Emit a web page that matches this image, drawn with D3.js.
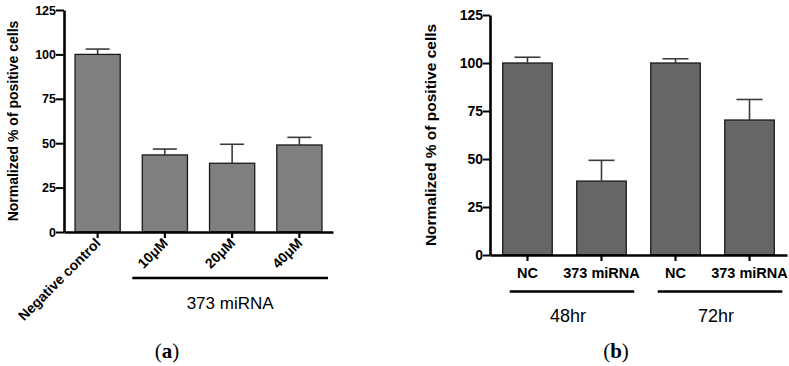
<!DOCTYPE html>
<html><head><meta charset="utf-8">
<script src="https://cdn.jsdelivr.net/npm/d3@7"></script>
<style>body{margin:0;background:#fff}svg{display:block}</style>
</head><body>
<svg id="c" width="789" height="366"></svg>
<script>
// ---- data ----
const catsA = ["Negative control", "10μM", "20μM", "40μM"];
const meanA = [100, 43.4, 38.7, 49.0];
const errA  = [3.0, 3.3, 10.7, 4.3];
const groupA = ["373 miRNA"];           // spans categories 1..3

const catsB  = ["NC", "373 miRNA", "NC", "373 miRNA"];
const meanB  = [100, 38.5, 100, 70.3];
const errB   = [3.0, 10.8, 2.2, 10.7];
const groupB = ["48hr", "72hr"];        // each spans 2 categories

const yTicks = [0, 25, 50, 75, 100, 125];
const yTitle = "Normalized % of positive cells";
const panelLabels = ["a", "b"];

const svg = d3.select("#c");
const SANS = "'Liberation Sans', Arial, Helvetica, sans-serif";

function panel(cfg) {
  const g = svg.append("g");
  const y = d3.scaleLinear().domain([0, 125]).range([cfg.y0, cfg.y1]);
  const idx = cfg.cats.map((_, i) => i);
  const x = d3.scaleBand().domain(idx).range([cfg.x0, cfg.x1])
    .paddingInner(cfg.pi).paddingOuter(cfg.po);

  // bars
  g.selectAll("rect.bar").data(idx).join("rect")
    .attr("x", i => x(i)).attr("width", x.bandwidth())
    .attr("y", i => y(cfg.mean[i])).attr("height", i => y(0) - y(cfg.mean[i]))
    .attr("fill", cfg.fill).attr("stroke", "#1a1a1a").attr("stroke-width", 1.3);

  // error bars (upper only)
  const cap = cfg.cap;
  idx.forEach(i => {
    const cx = x(i) + x.bandwidth() / 2;
    g.append("line").attr("x1", cx).attr("x2", cx)
      .attr("y1", y(cfg.mean[i])).attr("y2", y(cfg.mean[i] + cfg.err[i]))
      .attr("stroke", "#3a3a3a").attr("stroke-width", 1.6);
    g.append("line").attr("x1", cx - cap / 2).attr("x2", cx + cap / 2)
      .attr("y1", y(cfg.mean[i] + cfg.err[i])).attr("y2", y(cfg.mean[i] + cfg.err[i]))
      .attr("stroke", "#3a3a3a").attr("stroke-width", 1.6);
  });

  // y axis
  const ya = g.append("g").attr("transform", `translate(${cfg.x0},0)`)
    .call(d3.axisLeft(y).tickValues(yTicks).tickSize(cfg.tickLen).tickSizeOuter(0).tickPadding(0));
  ya.select(".domain").attr("stroke", "#000").attr("stroke-width", 2.6);
  ya.selectAll(".tick line").attr("stroke", "#000").attr("stroke-width", 2);
  ya.selectAll(".tick text").attr("fill", "#000")
    .style("font-family", SANS).style("font-weight", "bold").style("font-size", cfg.tickFs + "px");

  // x axis
  const xa = g.append("g").attr("transform", `translate(0,${cfg.y0})`)
    .call(d3.axisBottom(x).tickSize(6).tickSizeOuter(0).tickFormat(""));
  xa.select(".domain").attr("stroke", "#000").attr("stroke-width", 2.6);
  xa.selectAll(".tick line").attr("stroke", "#000").attr("stroke-width", 2.2);

  // y title
  g.append("text").attr("transform", `translate(${cfg.titleX},${(cfg.y0 + cfg.y1) / 2}) rotate(-90)`)
    .attr("text-anchor", "middle").attr("dominant-baseline", "central")
    .style("font-family", SANS).style("font-weight", "bold").style("font-size", cfg.titleFs + "px")
    .text(yTitle);

  return { g, x, y };
}

// ---------- panel (a) ----------
const A = panel({
  cats: catsA, mean: meanA, err: errA, fill: "#7f7f7f",
  x0: 64, x1: 333, y0: 232, y1: 10, pi: 0.328, po: 0.164,
  cap: 24, tickFs: 12.5, tickLen: 8, titleX: 13, titleFs: 14
});
catsA.forEach((c, i) => {
  const cx = A.x(i) + A.x.bandwidth() / 2;
  A.g.append("text").attr("transform", `translate(${cx + 4},${244}) rotate(-45)`)
    .attr("text-anchor", "end")
    .style("font-family", SANS).style("font-weight", "bold").style("font-size", "14px")
    .text(c);
});
{
  const xs = A.x(1) - 10, xe = A.x(3) + A.x.bandwidth() + 6;
  A.g.append("line").attr("x1", xs).attr("x2", xe).attr("y1", 278).attr("y2", 278)
    .attr("stroke", "#000").attr("stroke-width", 2.6);
  A.g.append("text").attr("x", (xs + xe) / 2).attr("y", 309).attr("text-anchor", "middle")
    .style("font-family", SANS).style("font-size", "17px").text(groupA[0]);
}

// ---------- panel (b) ----------
const B = panel({
  cats: catsB, mean: meanB, err: errB, fill: "#666666",
  x0: 490, x1: 787, y0: 255, y1: 15, pi: 0.331, po: 0.172,
  cap: 26, tickFs: 14, tickLen: 7, titleX: 430, titleFs: 15.5
});
catsB.forEach((c, i) => {
  const cx = B.x(i) + B.x.bandwidth() / 2;
  B.g.append("text").attr("x", cx).attr("y", 278).attr("text-anchor", "middle")
    .style("font-family", SANS).style("font-weight", "bold").style("font-size", "14.5px")
    .text(c);
});
groupB.forEach((lab, k) => {
  const i0 = 2 * k, i1 = 2 * k + 1;
  const xs = B.x(i0) + 7, xe = B.x(i1) + B.x.bandwidth() + 8;
  B.g.append("line").attr("x1", xs).attr("x2", xe).attr("y1", 291.5).attr("y2", 291.5)
    .attr("stroke", "#000").attr("stroke-width", 2.6);
  B.g.append("text").attr("x", (xs + xe) / 2 - 4).attr("y", 322).attr("text-anchor", "middle")
    .style("font-family", SANS).style("font-size", "18px").text(lab);
});

// panel letters
[[167, panelLabels[0]], [616, panelLabels[1]]].forEach(([cx, l]) => {
  const t = svg.append("text").attr("x", cx).attr("y", 358).attr("text-anchor", "middle")
    .style("font-family", "'Liberation Serif', 'Times New Roman', serif").style("font-size", "21px");
  t.append("tspan").text("(");
  t.append("tspan").style("font-weight", "bold").text(l);
  t.append("tspan").text(")");
});
</script>
</body></html>
